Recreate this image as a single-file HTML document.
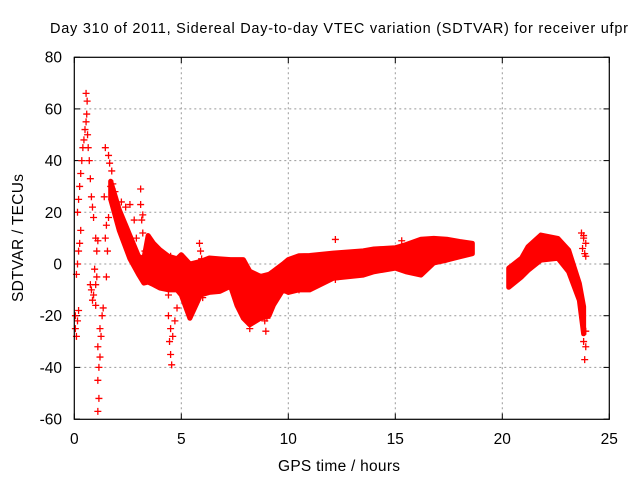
<!DOCTYPE html>
<html><head><meta charset="utf-8"><style>
html,body{margin:0;padding:0;background:#fff}
svg{display:block;font-family:"Liberation Sans",sans-serif}
</style></head><body>
<svg id="c" width="640" height="480" viewBox="0 0 640 480">
<text x="50" y="33" font-size="14.5" textLength="578" lengthAdjust="spacing">Day 310 of 2011, Sidereal Day-to-day VTEC variation (SDTVAR) for receiver ufpr</text>
<text x="278" y="471" font-size="15.5" textLength="122" lengthAdjust="spacing">GPS time / hours</text>
<text x="0" y="0" font-size="15.5" text-anchor="middle" textLength="128" lengthAdjust="spacing" transform="translate(23,238) rotate(-90)">SDTVAR / TECUs</text>
<g id="grid"></g><g id="ticks"></g><g id="marks"></g>
<rect x="74.3" y="57.3" width="535" height="362" fill="none" stroke="#000" stroke-width="1.2"/>
</svg>
<script>
const xTicks=[0,5,10,15,20,25];
const yTicks=[-60,-40,-20,0,20,40,60,80];
const bandAT=[1.7,2.1,2.6,3.0,3.25,3.45,3.7,4.0,4.4,4.8,5.0,5.4,5.9,6.3,6.8,7.3,7.6,7.9,8.2,8.7,9.1,9.3,9.75,10.0,10.5,11,12.1,13.5,14,15,15.5,16.2,16.8,17.4,18,18.6];
const bandAHi=[32,21,11,3,2,11,8,5.5,3,2,3.6,0,1,2.3,2,1.7,1.7,1.7,-2.8,-4.8,-4,-2.8,0,1.7,3.2,3.3,4.2,5.1,5.8,6.3,7.5,9.6,9.9,9.6,8.7,8];
const bandALo=[25,13,2,-4,-7.4,-7,-8,-9.3,-10,-10,-12,-21,-12,-11,-10.6,-8.6,-16,-21,-23.5,-21,-20,-16,-10,-11,-10,-10,-5.5,-4.3,-3,-1.6,-3,-4.3,0.4,1.5,2.8,4];
const bandBT=[20.3,20.9,21.2,21.8,22.6,23.1,23.6,23.8];
const bandBHi=[-1.6,2.3,6.7,11.2,9.9,5.4,-7.5,-16.5];
const bandBLo=[-9,-5,-2.5,1.5,2.2,-3,-14,-27];
const ptsT=[0.55,0.6,0.58,0.5,0.45,0.4,0.35,0.3,0.25,0.2,0.15,0.55,0.62,0.65,0.7,0.75,0.8,0.85,0.9,0.3,0.25,0.2,0.15,0.1,0.05,0.05,0.1,0.15,0.2,
0.75,0.8,0.9,1.0,1.05,0.95,0.85,1.1,1.15,1.1,1.15,1.1,1.2,1.25,1.3,1.35,1.2,1.0,1.05,1.0,1.1,
1.45,1.6,1.65,1.75,1.4,1.5,1.45,1.55,1.5,1.6,1.7,1.8,1.9,1.75,2.0,2.2,2.4,2.1,
3.1,3.1,3.2,3.15,3.2,3.3,2.6,2.8,2.9,4.4,4.5,4.45,4.5,4.55,4.6,4.7,4.8,4.4,4.5,5.85,5.9,5.95,6.0,
8.9,8.95,8.2,9.0,10.5,12.2,12.2,15.3,23.7,23.8,23.9,23.75,23.85,23.8,23.9,23.9,23.85,23.8,23.9];
const ptsV=[66,63,58,52,48,45,40,35,30,25,20,55,50,45,40,33,26,22,18,13,8,5,0,-4,-20,-25,-28,-22,-18,
-8,-10,-12,-8,-5,-2,-14,-32,-40,-45,-52,-57,-36,-28,-20,-17,-25,-16,5,10,9,
45,42,39,36,26,15,10,5,-5,18,30,31,28,25,22,24,22,18,
29,23,19,17,12,5,23,17,10,-20,-25,-30,-35,-39,-28,-22,-17,-12,3,8,5,2,-13,
-22,-26,-25,-21,-10,9.5,-6,9,12,10,8,6,4,11,3,-32,-37,-30,-26];
const X=t=>74.3+t*21.4;
const Y=v=>264-v*2.585;
const NS="http://www.w3.org/2000/svg";
const g=document.getElementById('grid'),tk=document.getElementById('ticks'),mk=document.getElementById('marks');
function el(n,a,p){const e=document.createElementNS(NS,n);for(const k in a)e.setAttribute(k,a[k]);p.appendChild(e);return e;}
xTicks.forEach(t=>{
 if(t>0&&t<25){const l=el('line',{x1:X(t),x2:X(t),y1:57.3,y2:419.3,stroke:'#999','stroke-dasharray':'2,3'},g);
 
 }
 el('line',{x1:X(t),x2:X(t),y1:419.3,y2:413.5,stroke:'#000'},tk);
 el('line',{x1:X(t),x2:X(t),y1:57.3,y2:63,stroke:'#000'},tk);
 const s=el('text',{x:X(t),y:444,'font-size':15.5,'text-anchor':'middle'},tk);s.textContent=t;
 
 
});
yTicks.forEach(v=>{
 if(v>-60&&v<80){const l=el('line',{x1:74.3,x2:609.3,y1:Y(v),y2:Y(v),stroke:'#999','stroke-dasharray':'2,3'},g);
 
 }
 el('line',{x1:74.3,x2:80,y1:Y(v),y2:Y(v),stroke:'#000'},tk);
 el('line',{x1:603.5,x2:609.3,y1:Y(v),y2:Y(v),stroke:'#000'},tk);
 const s=el('text',{x:62,y:Y(v)+5.5,'font-size':15.5,'text-anchor':'end'},tk);s.textContent=v;
 
 
});
function band(T,H,L,name){
 let d='M'+T.map((t,i)=>X(t)+','+Y(H[i])).join('L');
 for(let i=T.length-1;i>=0;i--)d+='L'+X(T[i])+','+Y(L[i]);
 const p=el('path',{d:d+'Z',fill:'#f00',stroke:'#f00','stroke-width':5,'stroke-linejoin':'round'},mk);
 
 
}
band(bandAT,bandAHi,bandALo,'data-band-day');
band(bandBT,bandBHi,bandBLo,'data-band-evening');
ptsT.forEach((t,i)=>{
 const x=X(t),y=Y(ptsV[i]);
 const p=el('path',{d:`M${x-3.5},${y}H${x+3.5}M${x},${y-3.5}V${y+3.5}`,stroke:'#f00','stroke-width':1.3},mk);
 
 
});
</script>
</body></html>
